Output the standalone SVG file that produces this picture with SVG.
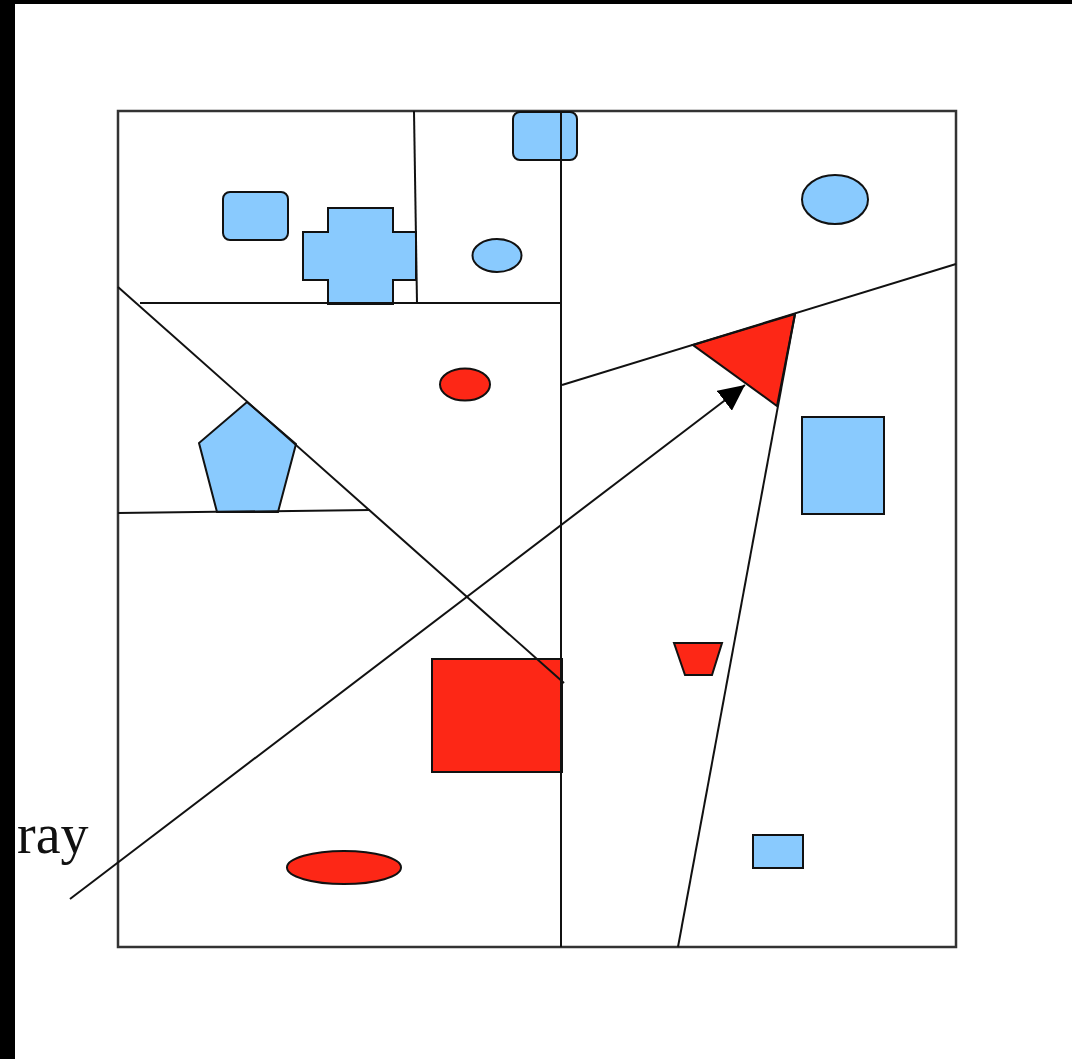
<svg xmlns="http://www.w3.org/2000/svg" width="1072" height="1059" viewBox="0 0 1072 1059">
<style>
.blue{fill:#89CAFE;stroke:#111;stroke-width:2}
.red{fill:#FD2716;stroke:#111;stroke-width:2}
.ln{stroke:#111;stroke-width:2;fill:none}
.frame{stroke:#333;stroke-width:2.5;fill:none}
.lbl{font-family:"Liberation Serif","Times New Roman",serif;font-size:56px;fill:#111}
</style>
<defs>
<marker id="arrow" viewBox="0 0 26 25" refX="26" refY="12.5" markerWidth="26" markerHeight="25" markerUnits="userSpaceOnUse" orient="auto">
<path d="M0,0 L26,12.5 L0,25 z" fill="#000"/>
</marker>
</defs>
<rect x="0" y="0" width="1072" height="1059" fill="#fff"/>
<rect x="0" y="0" width="1072" height="4" fill="#000"/>
<rect x="0" y="0" width="15" height="1059" fill="#000"/>
<g id="frame">
<rect class="frame" x="118" y="111" width="838" height="836"/>
</g>
<g id="rrect-left"><rect class="blue" x="223" y="192" width="65" height="48" rx="7"/></g>
<g id="cross"><path class="blue" d="M328,208 H393 V232 H416 V280 H393 V304 H328 V280 H303 V232 H328 Z"/></g>
<g id="rrect-top"><rect class="blue" x="513" y="112" width="64" height="48" rx="7"/></g>
<g id="ellipse-small"><ellipse class="blue" cx="497" cy="255.5" rx="24.5" ry="16.5"/></g>
<g id="ellipse-topright"><ellipse class="blue" cx="835" cy="199.5" rx="33" ry="24.5"/></g>
<g id="ellipse-red"><ellipse class="red" cx="465" cy="384.5" rx="25" ry="16"/></g>
<g id="pentagon"><polygon class="blue" points="247,402 296,444 278,512 217,512 199,443"/></g>
<g id="triangle"><polygon class="red" points="693,345 795,314 777,406"/></g>
<g id="rect-blue-right"><rect class="blue" x="802" y="417" width="82" height="97"/></g>
<g id="rect-red"><rect class="red" x="432" y="659" width="130" height="113"/></g>
<g id="trapezoid"><polygon class="red" points="674,643 722,643 712,675 685,675"/></g>
<g id="rect-blue-small"><rect class="blue" x="753" y="835" width="50" height="33"/></g>
<g id="ellipse-red-bottom"><ellipse class="red" cx="344" cy="867.5" rx="57" ry="16.5"/></g>
<g id="connectors">
<line class="ln" x1="561" y1="111" x2="561" y2="947"/>
<line class="ln" x1="414" y1="111" x2="417" y2="303"/>
<line class="ln" x1="140" y1="303" x2="561" y2="303"/>
<line class="ln" x1="118" y1="287" x2="564" y2="683"/>
<line class="ln" x1="118" y1="513" x2="370" y2="510"/>
<line class="ln" x1="562" y1="385" x2="956" y2="264"/>
<line class="ln" x1="678" y1="947" x2="795" y2="314"/>
<line class="ln" x1="70" y1="899" x2="745" y2="385" marker-end="url(#arrow)"/>
</g>
<g id="label"><text class="lbl" x="17" y="853">ray</text></g>
</svg>
